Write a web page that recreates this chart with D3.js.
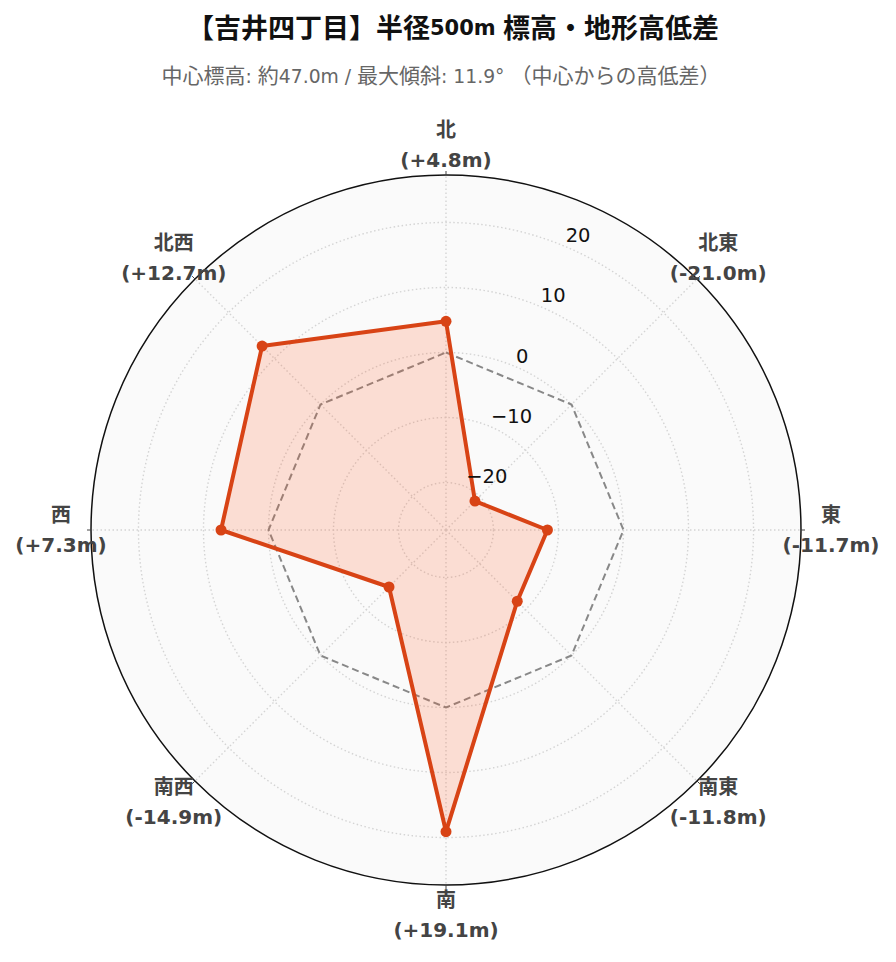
<!DOCTYPE html>
<html>
<head>
<meta charset="utf-8">
<script src="https://cdn.jsdelivr.net/npm/d3@7"></script>
<style>
  body { margin: 0; background: #fff; }
  svg text { font-family: "DejaVu Sans", "Noto Sans CJK JP", sans-serif; }
</style>
</head>
<body>
<div id="chart"></div>
<script>
const directions = ["北", "北東", "東", "南東", "南", "南西", "西", "北西"];
const elevDiff = [4.8, -21.0, -11.7, -11.8, 19.1, -14.9, 7.3, 12.7];
const baseline = [0, 0, 0, 0, 0, 0, 0, 0];
const radialTicks = [-20, -10, 0, 10, 20];
const radialRange = [-27.3, 27.3];

const w = 896;
const h = 962;
const cx = 446;
const cy = 530;
const outerR = 355;

const svg = d3.select("#chart")
  .append("svg")
  .attr("width", w)
  .attr("height", h);

const rScale = d3.scaleLinear().domain(radialRange).range([0, outerR]);
const aScale = d3.scaleLinear().domain([0, directions.length]).range([0, 2 * Math.PI]);

const g = svg.append("g").attr("transform", `translate(${cx},${cy})`);

// background disc
g.append("circle")
  .attr("r", outerR)
  .attr("fill", "#fafafa");

// grid circles
g.selectAll(".grid-circle")
  .data(radialTicks)
  .enter()
  .append("circle")
  .attr("class", "grid-circle")
  .attr("r", d => rScale(d))
  .attr("fill", "none")
  .attr("stroke", "#d4d4d4")
  .attr("stroke-width", 1.4)
  .attr("stroke-dasharray", "1.5,2.5");

// spokes
g.selectAll(".spoke")
  .data(directions)
  .enter()
  .append("line")
  .attr("class", "spoke")
  .attr("x1", 0)
  .attr("y1", 0)
  .attr("x2", (d, i) => outerR * Math.sin(aScale(i)))
  .attr("y2", (d, i) => -outerR * Math.cos(aScale(i)))
  .attr("stroke", "#d4d4d4")
  .attr("stroke-width", 1.4)
  .attr("stroke-dasharray", "1.5,2.5");

const line = d3.lineRadial()
  .angle((d, i) => aScale(i))
  .radius(d => rScale(d))
  .curve(d3.curveLinearClosed);

// zero reference
g.append("path")
  .attr("d", line(baseline))
  .attr("fill", "none")
  .attr("stroke", "#888")
  .attr("stroke-width", 2)
  .attr("stroke-dasharray", "7,4");

// data
g.append("path")
  .attr("d", line(elevDiff))
  .attr("fill", "rgba(255,87,34,0.18)")
  .attr("stroke", "#d84315")
  .attr("stroke-width", 4)
  .attr("stroke-linejoin", "round");

g.selectAll(".pt")
  .data(elevDiff)
  .enter()
  .append("circle")
  .attr("class", "pt")
  .attr("cx", (d, i) => rScale(d) * Math.sin(aScale(i)))
  .attr("cy", (d, i) => -rScale(d) * Math.cos(aScale(i)))
  .attr("r", 5.5)
  .attr("fill", "#d84315");

// outer circle
g.append("circle")
  .attr("r", outerR)
  .attr("fill", "none")
  .attr("stroke", "#111")
  .attr("stroke-width", 1.5);

// angular ticks
g.selectAll(".atick")
  .data(directions)
  .enter()
  .append("line")
  .attr("class", "atick")
  .attr("x1", (d, i) => outerR * Math.sin(aScale(i)))
  .attr("y1", (d, i) => -outerR * Math.cos(aScale(i)))
  .attr("x2", (d, i) => (outerR + 4) * Math.sin(aScale(i)))
  .attr("y2", (d, i) => -(outerR + 4) * Math.cos(aScale(i)))
  .attr("stroke", "#444")
  .attr("stroke-width", 1);

// radial tick labels along 22.5deg
const tickAngle = Math.PI / 8;
const fmt = d3.format("d");
g.selectAll(".rtick")
  .data(radialTicks)
  .enter()
  .append("text")
  .attr("class", "rtick")
  .attr("x", d => rScale(d) * Math.sin(tickAngle) + 2)
  .attr("y", d => -rScale(d) * Math.cos(tickAngle) - 10)
  .attr("dominant-baseline", "central")
  .attr("font-size", 19.5)
  .attr("fill", "#111")
  .text(d => fmt(d));

// direction labels
const labelR = 385;
const lab = g.selectAll(".dir")
  .data(directions)
  .enter()
  .append("text")
  .attr("class", "dir")
  .attr("text-anchor", "middle")
  .attr("font-size", 20)
  .attr("font-weight", "bold")
  .attr("fill", "#444")
  .attr("transform", (d, i) => `translate(${labelR * Math.sin(aScale(i))},${-labelR * Math.cos(aScale(i))})`);

lab.append("tspan")
  .attr("x", 0)
  .attr("y", -15)
  .attr("dominant-baseline", "central")
  .text(d => d);

lab.append("tspan")
  .attr("x", 0)
  .attr("y", 15)
  .attr("dominant-baseline", "central")
  .text((d, i) => `(${elevDiff[i] >= 0 ? "+" : ""}${elevDiff[i].toFixed(1)}m)`);

// CJK glyphs run a bit larger than the latin ones in the reference
function mixedText(el, str, cjkSize, latinSize) {
  const runs = str.match(/[\u3000-\u9fff\uff00-\uffef]+|[^\u3000-\u9fff\uff00-\uffef]+/g);
  runs.forEach(r => {
    const isCjk = /[\u3000-\u9fff\uff00-\uffef]/.test(r);
    el.append("tspan").attr("font-size", isCjk ? cjkSize : latinSize).text(r);
  });
}

// titles
const title = svg.append("text")
  .attr("x", 453)
  .attr("y", 28)
  .attr("text-anchor", "middle")
  .attr("dominant-baseline", "central")
  .attr("font-weight", "bold")
  .attr("fill", "#111");
mixedText(title, "【吉井四丁目】半径500m 標高・地形高低差", 27, 21);

const subtitle = svg.append("text")
  .attr("x", 441)
  .attr("y", 76)
  .attr("text-anchor", "middle")
  .attr("dominant-baseline", "central")
  .attr("fill", "#666");
mixedText(subtitle, "中心標高: 約47.0m / 最大傾斜: 11.9° （中心からの高低差）", 21, 18.75);
</script>
</body>
</html>
